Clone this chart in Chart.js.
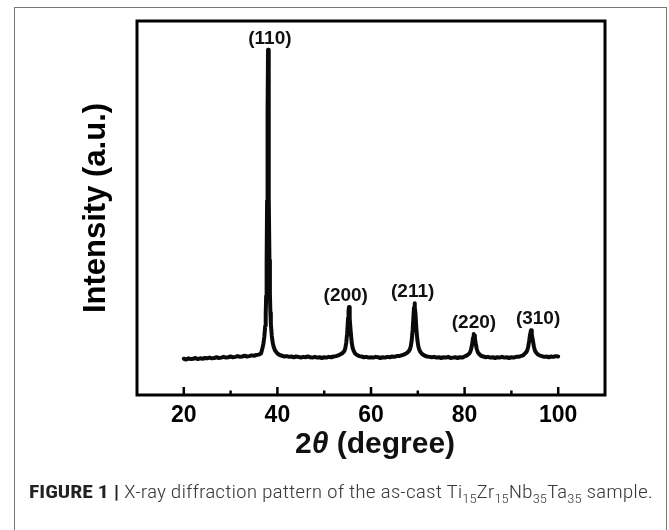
<!DOCTYPE html>
<html>
<head>
<meta charset="utf-8">
<script src="https://cdn.jsdelivr.net/npm/chart.js@4/dist/chart.umd.min.js"></script>
<style>
  html, body { margin: 0; padding: 0; background: #fff; }
  #wrap { position: relative; width: 669px; height: 530px; overflow: hidden; }
  #frame { position: absolute; left: 14px; top: 7px; width: 653px; height: 600px; border: 1.5px solid #777; box-sizing: border-box; }
  #c { position: absolute; left: 0; top: 0; }
  #cap { position: absolute; left: 29px; top: 482px; font-family: 'Liberation Sans Narrow', 'Roboto Condensed', 'Roboto', 'Liberation Sans', sans-serif; font-size: 19px; line-height: 19px; color: #3a3a3a; white-space: nowrap; transform-origin: 0 0; font-weight: 300; }
  #cap b { font-weight: 700; color: #222; }
  #cap sub { font-size: 0.68em; vertical-align: -0.35em; line-height: 0; }
</style>
</head>
<body>
<div id="wrap">
  <div id="frame"></div>
  <canvas id="c" width="669" height="530"></canvas>
  <div id="cap"><b>FIGURE 1 |</b> X-ray diffraction pattern of the as-cast Ti<sub>15</sub>Zr<sub>15</sub>Nb<sub>35</sub>Ta<sub>35</sub> sample.</div>
</div>
<script>
// ---- data ----
const twoTheta = [
  20.0,20.5,21.0,21.5,22.0,22.5,23.0,23.5,24.0,24.5,25.0,25.5,26.0,26.5,27.0,27.5,28.0,28.5,29.0,29.5,
  30.0,30.5,31.0,31.5,32.0,32.5,33.0,33.5,34.0,34.5,35.0,35.5,36.0,36.5,36.8,37.0,37.2,37.4,37.5,37.6,
  37.7,37.8,37.9,38.0,38.1,38.2,38.3,38.4,38.5,38.6,38.8,39.0,39.2,39.5,40.0,40.5,41.0,41.5,42.0,42.5,
  43.0,43.5,44.0,44.5,45.0,45.5,46.0,46.5,47.0,47.5,48.0,48.5,49.0,49.5,50.0,50.5,51.0,51.5,52.0,52.5,
  53.0,53.5,54.0,54.3,54.5,54.7,54.9,55.1,55.2,55.3,55.4,55.5,55.7,55.9,56.1,56.3,56.6,57.0,57.5,58.0,
  58.5,59.0,59.5,60.0,60.5,61.0,61.5,62.0,62.5,63.0,63.5,64.0,64.5,65.0,65.5,66.0,66.5,67.0,67.5,68.0,
  68.3,68.5,68.7,68.9,69.1,69.2,69.3,69.4,69.5,69.7,69.9,70.1,70.3,70.6,71.0,71.5,72.0,72.5,73.0,73.5,
  74.0,74.5,75.0,75.5,76.0,76.5,77.0,77.5,78.0,78.5,79.0,79.5,80.0,80.5,81.0,81.2,81.4,81.6,81.8,81.9,
  82.0,82.1,82.2,82.4,82.6,82.8,83.0,83.5,84.0,84.5,85.0,85.5,86.0,86.5,87.0,87.5,88.0,88.5,89.0,89.5,
  90.0,90.5,91.0,91.5,92.0,92.5,92.8,93.2,93.4,93.6,93.8,94.0,94.1,94.2,94.3,94.4,94.6,94.8,95.0,95.2,
  95.6,96.0,96.5,97.0,97.5,98.0,98.5,99.0,99.5,100.0
];
const intensity = [
  9.7,9.5,9.8,9.6,9.7,9.9,9.6,9.8,9.7,9.9,9.8,10.0,9.8,9.9,10.1,9.9,10.0,10.2,10.0,10.1,
  10.3,10.1,10.2,10.4,10.2,10.3,10.5,10.3,10.4,10.6,10.5,10.7,10.8,11.1,12.5,13.6,15.5,18.5,21.5,26.5,
  35.5,52.0,76.0,92.3,77.0,53.0,36.0,27.0,22.0,19.0,15.8,14.0,12.9,11.9,11.1,10.7,10.5,10.3,10.4,10.2,
  10.3,10.1,10.3,10.2,10.0,10.2,10.1,10.3,10.1,10.0,10.2,10.0,10.1,9.9,10.1,10.0,10.2,10.1,10.3,10.4,
  10.6,10.9,11.3,11.7,12.5,13.9,16.4,20.6,22.6,23.5,22.5,20.5,16.3,13.8,12.5,11.8,11.1,10.7,10.4,10.3,
  10.1,10.2,10.0,10.1,10.0,10.2,10.1,9.9,10.1,10.0,10.2,10.1,10.3,10.2,10.4,10.4,10.6,10.8,11.1,11.6,
  12.2,13.0,14.6,17.4,21.6,23.4,24.5,23.5,21.8,17.5,14.8,13.1,12.2,11.4,10.9,10.5,10.3,10.2,10.1,10.2,
  10.0,10.1,9.9,10.1,10.0,10.2,9.9,10.0,10.1,9.9,10.1,10.0,10.3,10.6,11.1,11.5,12.3,13.5,15.3,15.9,
  16.3,15.9,15.2,13.5,12.3,11.5,11.1,10.5,10.3,10.1,10.2,10.0,10.1,9.9,10.1,10.0,10.2,10.0,10.1,9.9,
  10.1,10.0,10.2,10.2,10.4,10.6,11.0,11.5,12.0,13.0,14.5,16.3,16.9,17.3,16.9,16.3,14.5,13.0,12.0,11.5,
  10.9,10.6,10.4,10.2,10.3,10.1,10.3,10.2,10.4,10.3
];
const xTickValues = [20, 40, 60, 80, 100];
const xMinorValues = [30, 50, 70, 90];
const peakNames = ['(110)', '(200)', '(211)', '(220)', '(310)'];
const peakLabelX = [38.4, 54.6, 68.9, 82.0, 95.7];
const peakTopY = [92.3, 23.5, 24.5, 16.3, 17.3];

const points = twoTheta.map((t, i) => ({ x: t, y: intensity[i] }));

const boxPlugin = {
  id: 'boxPlugin',
  afterDraw(chart) {
    const { ctx, chartArea: a, scales: { x, y } } = chart;
    ctx.save();
    ctx.strokeStyle = '#000';
    ctx.lineWidth = 3;
    ctx.lineCap = 'butt';
    ctx.strokeRect(a.left, a.top, a.right - a.left, a.bottom - a.top);
    ctx.lineWidth = 2.5;
    xTickValues.forEach(v => {
      const px = x.getPixelForValue(v);
      ctx.beginPath(); ctx.moveTo(px, a.bottom); ctx.lineTo(px, a.bottom - 8); ctx.stroke();
    });
    xMinorValues.forEach(v => {
      const px = x.getPixelForValue(v);
      ctx.beginPath(); ctx.moveTo(px, a.bottom); ctx.lineTo(px, a.bottom - 4.5); ctx.stroke();
    });
    // peak labels
    ctx.fillStyle = '#111';
    ctx.font = 'bold 19px "Liberation Sans", Arial, sans-serif';
    ctx.textAlign = 'center';
    ctx.textBaseline = 'bottom';
    peakNames.forEach((n, i) => {
      ctx.fillText(n, x.getPixelForValue(peakLabelX[i]), y.getPixelForValue(peakTopY[i]) - 2);
    });
    // x axis title: 2θ (degree), θ italic
    const cx = (a.left + a.right) / 2 + 4;
    const ty = 445;
    const fB = 'bold 30px "Liberation Sans", Arial, sans-serif';
    const fI = 'bold italic 30px "Liberation Sans", Arial, sans-serif';
    ctx.textBaseline = 'middle';
    ctx.textAlign = 'left';
    ctx.font = fB; const w1 = ctx.measureText('2').width; const w3 = ctx.measureText(' (degree)').width;
    ctx.font = fI; const w2 = ctx.measureText('θ').width;
    let sx = cx - (w1 + w2 + w3) / 2;
    ctx.font = fB; ctx.fillText('2', sx, ty); sx += w1;
    ctx.font = fI; ctx.fillText('θ', sx, ty); sx += w2;
    ctx.font = fB; ctx.fillText(' (degree)', sx, ty);
    ctx.restore();
  }
};

new Chart(document.getElementById('c'), {
  type: 'line',
  data: {
    datasets: [{
      data: points,
      borderColor: '#0a0a0a',
      borderWidth: 4,
      pointRadius: 0,
      tension: 0,
      borderJoinStyle: 'round',
      borderCapStyle: 'round',
      fill: false
    }]
  },
  options: {
    responsive: false,
    animation: false,
    events: [],
    layout: { padding: { left: 0, right: 64, top: 21, bottom: 0 } },
    plugins: { legend: { display: false }, tooltip: { enabled: false } },
    scales: {
      x: {
        type: 'linear', min: 10, max: 110,
        grid: { display: false, drawTicks: false },
        border: { display: false },
        afterBuildTicks: s => { s.ticks = xTickValues.map(v => ({ value: v })); },
        afterFit: s => { s.height = 135; },
        ticks: { color: '#000', padding: 7, font: { family: '"Liberation Sans", Arial, sans-serif', size: 23, weight: 'bold' }, maxRotation: 0 }
      },
      y: {
        type: 'linear', min: 0, max: 100,
        grid: { display: false, drawTicks: false },
        border: { display: false },
        ticks: { display: false },
        afterFit: s => { s.width = 137; },
        title: { display: true, text: 'Intensity (a.u.)', color: '#000', padding: { top: 78, bottom: 0 },
                 font: { family: '"Liberation Sans", Arial, sans-serif', size: 31, weight: 'bold' } }
      }
    }
  },
  plugins: [boxPlugin]
});

// fit caption width to reference span
const cap = document.getElementById('cap');
const w = cap.getBoundingClientRect().width;
cap.style.transform = 'scaleX(' + (624 / w) + ')';
</script>
</body>
</html>
